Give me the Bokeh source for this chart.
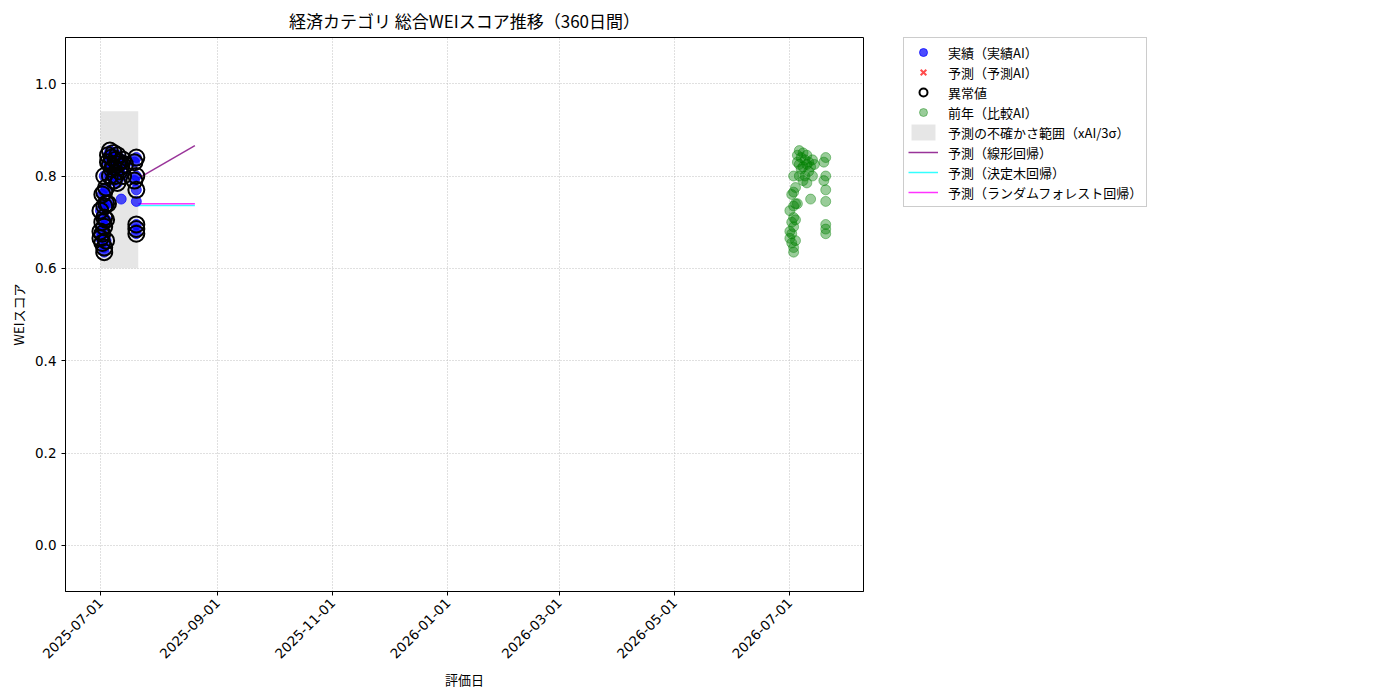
from datetime import datetime
from bokeh.plotting import figure
from bokeh.layouts import row
from bokeh.models import (Range1d, FixedTicker, DatetimeTickFormatter, PrintfTickFormatter,
                          Legend, LegendItem)
from bokeh.embed import file_html
from bokeh.resources import INLINE
import math

# ---------------- data ----------------
actual_dates = [
    "2025-07-01", "2025-07-01", "2025-07-01",
    "2025-07-02", "2025-07-02", "2025-07-02", "2025-07-02",
    "2025-07-03", "2025-07-03", "2025-07-03", "2025-07-03", "2025-07-03", "2025-07-03", "2025-07-03",
    "2025-07-04", "2025-07-04", "2025-07-04", "2025-07-04",
    "2025-07-05", "2025-07-05", "2025-07-05",
    "2025-07-06", "2025-07-06", "2025-07-06",
    "2025-07-07", "2025-07-07",
    "2025-07-08", "2025-07-08", "2025-07-08",
    "2025-07-09", "2025-07-09",
    "2025-07-10", "2025-07-10", "2025-07-10",
    "2025-07-11", "2025-07-11",
    "2025-07-12", "2025-07-12",
    "2025-07-13", "2025-07-13",
    "2025-07-14",
    "2025-07-19", "2025-07-19",
    "2025-07-20", "2025-07-20", "2025-07-20", "2025-07-20", "2025-07-20", "2025-07-20", "2025-07-20",
]
actual_values = [
    0.725, 0.680, 0.665,
    0.760, 0.700, 0.655, 0.675,
    0.800, 0.765, 0.735, 0.710, 0.690, 0.645, 0.635,
    0.775, 0.740, 0.705, 0.660,
    0.845, 0.830, 0.740,
    0.855, 0.825, 0.800,
    0.840, 0.815,
    0.850, 0.820, 0.790,
    0.835, 0.800,
    0.845, 0.825, 0.785,
    0.830, 0.810,
    0.820, 0.750,
    0.835, 0.800,
    0.825,
    0.830, 0.790,
    0.840, 0.800, 0.770, 0.745, 0.695, 0.685, 0.675,
]
anomaly_flags = [
    1, 1, 1,
    1, 1, 1, 1,
    1, 1, 1, 1, 1, 1, 1,
    1, 1, 1, 1,
    1, 1, 1,
    1, 1, 1,
    1, 1,
    1, 1, 1,
    1, 1,
    1, 1, 1,
    1, 1,
    1, 0,
    1, 1,
    1,
    1, 1,
    1, 1, 1, 0, 1, 1, 1,
]
prev_dates = [
    "2026-07-01", "2026-07-01", "2026-07-01",
    "2026-07-02", "2026-07-02", "2026-07-02", "2026-07-02",
    "2026-07-03", "2026-07-03", "2026-07-03", "2026-07-03", "2026-07-03", "2026-07-03", "2026-07-03",
    "2026-07-04", "2026-07-04", "2026-07-04", "2026-07-04",
    "2026-07-05", "2026-07-05", "2026-07-05",
    "2026-07-06", "2026-07-06", "2026-07-06",
    "2026-07-07", "2026-07-07",
    "2026-07-08", "2026-07-08", "2026-07-08",
    "2026-07-09", "2026-07-09",
    "2026-07-10", "2026-07-10", "2026-07-10",
    "2026-07-11", "2026-07-11",
    "2026-07-12", "2026-07-12",
    "2026-07-13", "2026-07-13",
    "2026-07-14",
    "2026-07-19", "2026-07-19",
    "2026-07-20", "2026-07-20", "2026-07-20", "2026-07-20", "2026-07-20", "2026-07-20", "2026-07-20",
]
prev_values = [
    0.725, 0.680, 0.665,
    0.760, 0.700, 0.655, 0.675,
    0.800, 0.765, 0.735, 0.710, 0.690, 0.645, 0.635,
    0.775, 0.740, 0.705, 0.660,
    0.845, 0.830, 0.740,
    0.855, 0.825, 0.800,
    0.840, 0.815,
    0.850, 0.820, 0.790,
    0.835, 0.800,
    0.845, 0.825, 0.785,
    0.830, 0.810,
    0.820, 0.750,
    0.835, 0.800,
    0.825,
    0.830, 0.790,
    0.840, 0.800, 0.770, 0.745, 0.695, 0.685, 0.675,
]
band_dates = ["2025-07-01", "2025-07-21"]
band_lower = [0.60]
band_upper = [0.94]
forecast_dates = ["2025-07-21", "2025-08-20"]
linear_values = [0.795, 0.866]
tree_values = [0.736, 0.736]
forest_values = [0.740, 0.740]
pred_dates = []      # no 予測AI points in this chart (legend entry only)
pred_values = []
x_tick_labels = ["2025-07-01", "2025-09-01", "2025-11-01", "2026-01-01",
                 "2026-03-01", "2026-05-01", "2026-07-01"]
legend_labels = ["実績（実績AI）", "予測（予測AI）", "異常値", "前年（比較AI）",
                 "予測の不確かさ範囲（xAI/3σ）", "予測（線形回帰）", "予測（決定木回帰）",
                 "予測（ランダムフォレスト回帰）"]

# ---------------- helpers ----------------
def d(s):
    return datetime.strptime(s, "%Y-%m-%d")

def ms(s):
    return (d(s) - datetime(1970, 1, 1)).total_seconds() * 1000.0

FONT = "Noto Sans CJK JP"
TICK_FONT = "DejaVu Sans"

# styles shared by the chart and its legend
ACT = dict(size=10, fill_color="blue", fill_alpha=0.7, line_color="blue", line_alpha=0.7)
PRED = dict(marker="x", size=12, line_color="red", line_alpha=0.7, line_width=2)
ANOM = dict(size=16, fill_color=None, line_color="black", line_width=2)
PREV = dict(size=10, fill_color="green", fill_alpha=0.4, line_color="green", line_alpha=0.4)
BAND = dict(fill_color="gray", fill_alpha=0.2, line_color=None)
LIN = dict(line_color="purple", line_alpha=0.8, line_width=1.5)
TREE = dict(line_color="cyan", line_alpha=0.8, line_width=1.5)
RF = dict(line_color="magenta", line_alpha=0.8, line_width=1.5)

p = figure(width=903, height=692, x_axis_type="datetime",
           output_backend="svg", toolbar_location=None,
           x_range=Range1d(datetime(2025, 6, 12, 12), datetime(2026, 8, 9)),
           y_range=Range1d(-0.1, 1.1),
           min_border_left=65, min_border_right=40,
           min_border_top=36, min_border_bottom=101,
           title="経済カテゴリ 総合WEIスコア推移（360日間）")
p.title.align = "center"
p.title.text_font = FONT
p.title.text_font_size = "17px"
p.title.text_font_style = "normal"
p.title.text_color = "black"

p.quad(left=[d(band_dates[0])], right=[d(band_dates[1])],
       bottom=band_lower, top=band_upper, **BAND)
fd = [d(s) for s in forecast_dates]
p.line(fd, linear_values, **LIN)
p.line(fd, tree_values, **TREE)
p.line(fd, forest_values, **RF)

ad = [d(s) for s in actual_dates]
p.scatter(ad, actual_values, **ACT)
p.scatter([d(s) for s in pred_dates], pred_values, **PRED)
an_d = [x for x, f in zip(ad, anomaly_flags) if f]
an_v = [v for v, f in zip(actual_values, anomaly_flags) if f]
p.scatter(an_d, an_v, **ANOM)
p.scatter([d(s) for s in prev_dates], prev_values, **PREV)

# axes
p.xaxis.ticker = FixedTicker(ticks=[ms(s) for s in x_tick_labels])
p.xaxis.formatter = DatetimeTickFormatter(
    milliseconds="%Y-%m-%d", seconds="%Y-%m-%d", minsec="%Y-%m-%d", minutes="%Y-%m-%d",
    hourmin="%Y-%m-%d", hours="%Y-%m-%d", days="%Y-%m-%d", months="%Y-%m-%d", years="%Y-%m-%d")
p.xaxis.major_label_orientation = math.pi / 4
p.yaxis.ticker = FixedTicker(ticks=[0.0, 0.2, 0.4, 0.6, 0.8, 1.0])
p.yaxis.formatter = PrintfTickFormatter(format="%.1f")
p.xaxis.axis_label = "評価日"
p.yaxis.axis_label = "WEIスコア"
for ax in (p.xaxis, p.yaxis):
    ax.axis_label_text_font = FONT
    ax.axis_label_text_font_size = "13px"
    ax.axis_label_text_font_style = "normal"
    ax.axis_label_text_color = "black"
    ax.major_label_text_font = TICK_FONT
    ax.major_label_text_font_size = "13.5px"
    ax.major_label_text_color = "black"
    ax.axis_line_color = "black"
    ax.major_tick_line_color = "black"
    ax.major_tick_out = 4
    ax.major_tick_in = 0
    ax.minor_tick_line_color = None
    ax.axis_label_standoff = 4
p.outline_line_color = "black"
p.outline_line_alpha = 1
p.grid.grid_line_color = "#c0c0c0"
p.grid.grid_line_dash = "1 2"
p.grid.grid_line_width = 1

# ---------------- legend panel (to the right of the axes) ----------------
lg = figure(width=290, height=692, output_backend="svg", toolbar_location=None,
            x_axis_location=None, y_axis_location=None,
            x_range=Range1d(0, 1), y_range=Range1d(0, 1),
            min_border_left=0, min_border_right=0, min_border_top=36, min_border_bottom=101)
lg.grid.visible = False
lg.outline_line_color = None
nan = [float("nan")]
g = [
    lg.scatter(nan, nan, **ACT),
    lg.scatter(nan, nan, **PRED),
    lg.scatter(nan, nan, **ANOM),
    lg.scatter(nan, nan, **PREV),
    lg.quad(left=nan, right=nan, bottom=nan, top=nan, **BAND),
    lg.line(nan, nan, **LIN),
    lg.line(nan, nan, **TREE),
    lg.line(nan, nan, **RF),
]
legend = Legend(items=[LegendItem(label=t, renderers=[r]) for t, r in zip(legend_labels, g)],
                location="top_left")
legend.label_text_font = FONT
legend.label_text_font_size = "13px"
legend.label_text_color = "black"
legend.glyph_width = 30
legend.glyph_height = 20
legend.label_height = 20
legend.spacing = 0
legend.padding = 4
legend.label_standoff = 10
legend.margin = 0
legend.border_line_color = "#cccccc"
legend.border_line_alpha = 1
legend.background_fill_alpha = 1
lg.add_layout(legend, "center")

open("out.html", "w").write(file_html(row(p, lg), INLINE))
